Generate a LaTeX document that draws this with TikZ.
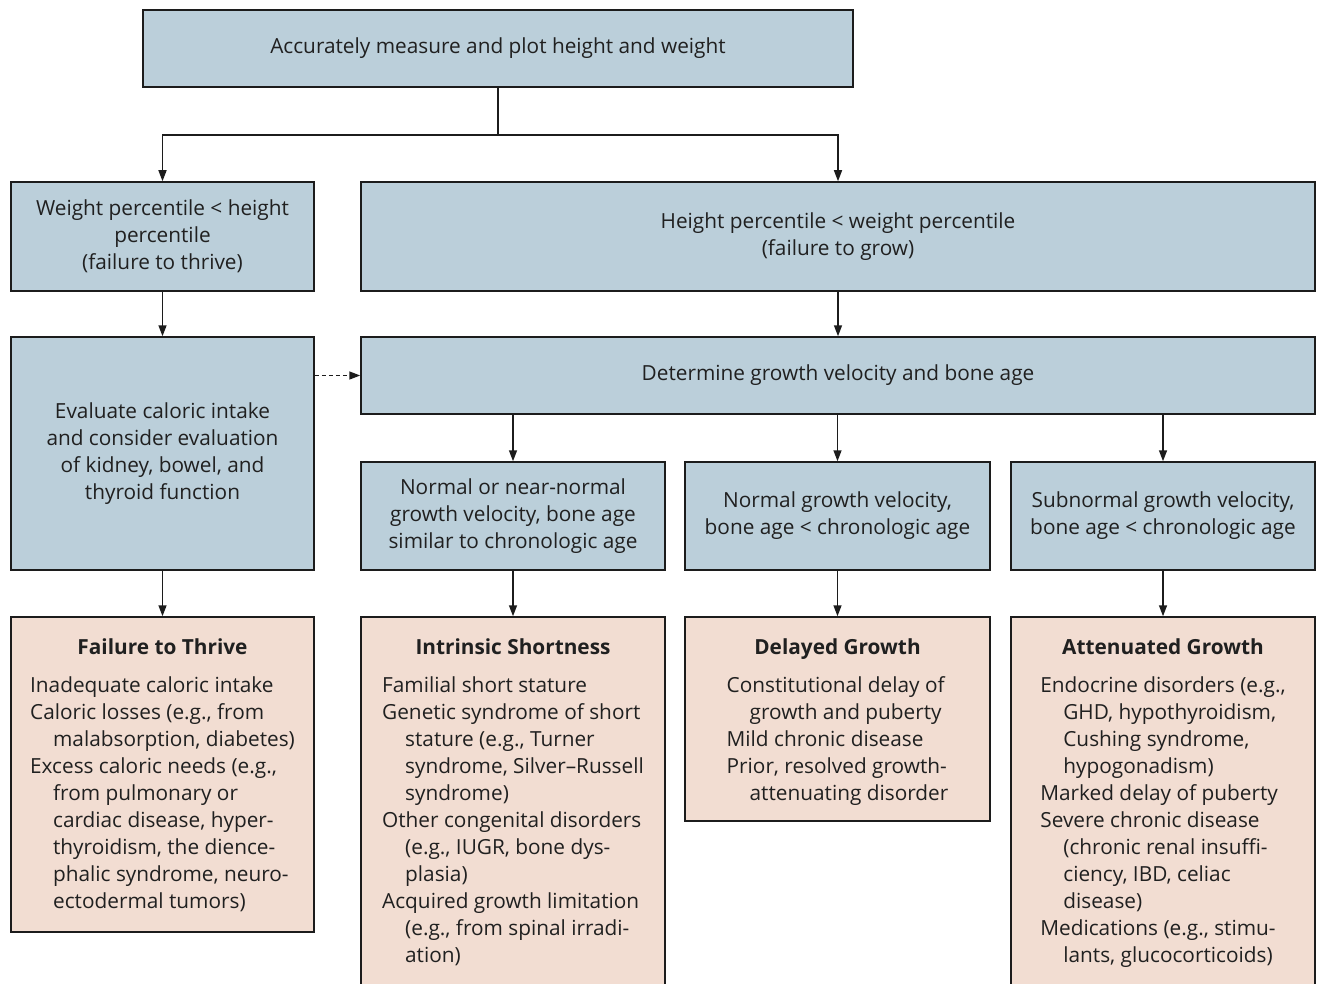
\documentclass[tikz,border=0pt]{standalone}
\usepackage{fontspec}
\setmainfont{Open Sans}
\usepackage{tikz}
\usetikzlibrary{arrows.meta,calc}
\definecolor{BoxBlue}{HTML}{BBCFDA}
\definecolor{BoxPink}{HTML}{F2DDD2}
\definecolor{Edge}{HTML}{1C1C1C}
\definecolor{Ink}{HTML}{202020}
\newcommand{\hang}{\hspace*{23pt}}

\begin{document}
\begin{tikzpicture}[x=1pt, y=-1pt, >={Triangle[length=11pt,width=8pt]},
    bluebox/.style={draw=Edge, line width=1.5pt, fill=BoxBlue, inner sep=0pt,
      align=center, text=Ink, font=\fontsize{20.8}{27}\selectfont},
    pinkbox/.style={draw=Edge, line width=1.5pt, fill=BoxPink, inner sep=0pt},
    ttl/.style={anchor=base, inner sep=0pt, text=Ink, font=\fontsize{20.8}{27}\selectfont\bfseries},
    body/.style={anchor=north, inner sep=0pt, align=left, text=Ink, font=\fontsize{20.8}{27}\selectfont},
    conn/.style={->, line width=1.5pt, draw=Edge}]
    \useasboundingbox (0,0) rectangle (1321,984);

    % Top box
    \node[bluebox, minimum width=710pt, minimum height=77pt] (measure) at (498,48.5)
      {Accurately measure and plot height and weight};

    % Percentile comparison
    \node[bluebox, minimum width=303pt, minimum height=109pt] (wtpct) at (162.5,236.5)
      {Weight percentile < height\\percentile\\(failure to thrive)};
    \node[bluebox, minimum width=954pt, minimum height=109pt] (htpct) at (838,236.5)
      {Height percentile < weight percentile\\(failure to grow)};

    % Second level
    \node[bluebox, minimum width=303pt, minimum height=233pt] (caloric) at (162.5,453.5)
      {Evaluate caloric intake\\and consider evaluation\\of kidney, bowel, and\\thyroid function};
    \node[bluebox, minimum width=954pt, minimum height=77pt] (velocity) at (838,375.5)
      {Determine growth velocity and bone age};

    % Velocity outcomes
    \node[bluebox, minimum width=304pt, minimum height=108pt] (normvel) at (513,516)
      {Normal or near-normal\\growth velocity, bone age\\similar to chronologic age};
    \node[bluebox, minimum width=305pt, minimum height=108pt] (delayvel) at (837.5,516)
      {Normal growth velocity,\\bone age < chronologic age};
    \node[bluebox, minimum width=304pt, minimum height=108pt] (subvel) at (1163,516)
      {Subnormal growth velocity,\\bone age < chronologic age};

    % Diagnoses
    \node[pinkbox, minimum width=303pt, minimum height=315pt] (ftt) at (162.5,774.5) {};
    \node[pinkbox, minimum width=304pt, minimum height=383pt] (intrinsic) at (513,808.5) {};
    \node[pinkbox, minimum width=305pt, minimum height=204pt] (delayed) at (837.5,719) {};
    \node[pinkbox, minimum width=304pt, minimum height=383pt] (attenuated) at (1163,808.5) {};

    \node[ttl] (fttT) at ([yshift=-38pt]ftt.north) {Failure to Thrive};
    \node[body] (fttB) at ([yshift=-60pt]ftt.north)
      {Inadequate caloric intake\\
       Caloric losses (e.g., from\\
       \hang malabsorption, diabetes)\\
       Excess caloric needs (e.g.,\\
       \hang from pulmonary or\\
       \hang cardiac disease, hyper-\\
       \hang thyroidism, the dience-\\
       \hang phalic syndrome, neuro-\\
       \hang ectodermal tumors)};

    \node[ttl] (intrinsicT) at ([yshift=-38pt]intrinsic.north) {Intrinsic Shortness};
    \node[body] (intrinsicB) at ([yshift=-60pt]intrinsic.north)
      {Familial short stature\\
       Genetic syndrome of short\\
       \hang stature (e.g., Turner\\
       \hang syndrome, Silver--Russell\\
       \hang syndrome)\\
       Other congenital disorders\\
       \hang (e.g., IUGR, bone dys-\\
       \hang plasia)\\
       Acquired growth limitation\\
       \hang (e.g., from spinal irradi-\\
       \hang ation)};

    \node[ttl] (delayedT) at ([yshift=-38pt]delayed.north) {Delayed Growth};
    \node[body] (delayedB) at ([yshift=-60pt]delayed.north)
      {Constitutional delay of\\
       \hang growth and puberty\\
       Mild chronic disease\\
       Prior, resolved growth-\\
       \hang attenuating disorder};

    \node[ttl] (attenuatedT) at ([yshift=-38pt]attenuated.north) {Attenuated Growth};
    \node[body] (attenuatedB) at ([yshift=-60pt]attenuated.north)
      {Endocrine disorders (e.g.,\\
       \hang GHD, hypothyroidism,\\
       \hang Cushing syndrome,\\
       \hang hypogonadism)\\
       Marked delay of puberty\\
       Severe chronic disease\\
       \hang (chronic renal insuffi-\\
       \hang ciency, IBD, celiac\\
       \hang disease)\\
       Medications (e.g., stimu-\\
       \hang lants, glucocorticoids)};

    % Connectors
    \coordinate (split) at (498,135);
    \draw[line width=1.5pt, Edge] (measure.south) -- (split);
    \draw[conn] (split) -| (wtpct.north);
    \draw[conn] (split) -| (htpct.north);
    \draw[conn] (wtpct) -- (caloric);
    \draw[conn] (htpct) -- (velocity);
    \draw[conn, dash pattern=on 4pt off 3pt] (caloric.east |- velocity.west) -- (velocity.west);
    \foreach \b in {normvel, delayvel, subvel}
      \draw[conn] (velocity.south -| \b.north) -- (\b.north);
    \draw[conn] (caloric) -- (ftt);
    \draw[conn] (normvel) -- (intrinsic);
    \draw[conn] (delayvel) -- (delayed);
    \draw[conn] (subvel) -- (attenuated);

\end{tikzpicture}
\end{document}
